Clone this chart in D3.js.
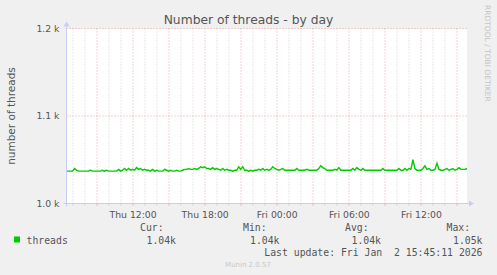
<!DOCTYPE html>
<html>
<head>
<meta charset="utf-8">
<script src="https://cdn.jsdelivr.net/npm/d3@7"></script>
<style>
  html, body { margin: 0; padding: 0; background: #f0f0f0; }
  svg { display: block; overflow: visible; }
</style>
</head>
<body>
<svg id="chart"></svg>
<script>
// threads sampled every 10 minutes, starting Thu 06:30
const startTime = new Date(2026, 0, 1, 6, 30);
const endTime = new Date(2026, 0, 2, 15, 50);
const stepMinutes = 10;
const threads = [
  1037, 1037, 1037, 1037, 1040, 1038,
  1037, 1037, 1037, 1037, 1037, 1037,
  1038, 1037, 1037, 1037, 1037, 1037,
  1038, 1037, 1038, 1037, 1037, 1037,
  1037, 1037, 1039, 1037, 1038, 1040,
  1038, 1040, 1038, 1039, 1038, 1041,
  1039, 1040, 1038, 1039, 1038, 1038,
  1037, 1039, 1037, 1038, 1037, 1037,
  1037, 1039, 1038, 1037, 1038, 1037,
  1037, 1038, 1037, 1037, 1038, 1039,
  1039, 1040, 1039, 1039, 1040, 1039,
  1040, 1042, 1041, 1042, 1040, 1040,
  1039, 1041, 1039, 1040, 1039, 1038,
  1040, 1038, 1039, 1038, 1038, 1037,
  1038, 1038, 1042, 1039, 1042, 1038,
  1038, 1037, 1038, 1037, 1038, 1038,
  1039, 1038, 1040, 1038, 1039, 1038,
  1039, 1042, 1040, 1039, 1038, 1039,
  1040, 1038, 1038, 1038, 1038, 1038,
  1038, 1040, 1038, 1038, 1038, 1038,
  1039, 1038, 1038, 1038, 1038, 1038,
  1040, 1043, 1041, 1040, 1038, 1038,
  1038, 1038, 1039, 1038, 1041, 1038,
  1038, 1038, 1038, 1038, 1038, 1040,
  1038, 1041, 1039, 1038, 1040, 1038,
  1038, 1038, 1038, 1038, 1038, 1038,
  1038, 1038, 1040, 1038, 1038, 1038,
  1038, 1038, 1038, 1038, 1040, 1038,
  1038, 1040, 1038, 1040, 1039, 1050,
  1040, 1038, 1038, 1038, 1040, 1043,
  1039, 1040, 1038, 1038, 1039, 1046,
  1039, 1038, 1038, 1039, 1040, 1038,
  1039, 1040, 1038, 1039, 1041, 1039,
  1039, 1039, 1040
];
const yTicks = [1000, 1100, 1200];
const legendHeaders = ['Cur:', 'Min:', 'Avg:', 'Max:'];
const legendValues = ['1.04k', '1.04k', '1.04k', '1.05k'];
const lastUpdate = 'Last update: Fri Jan\u00a0\u00a02 15:45:11 2026';

const width = 497, height = 275;
const margin = { top: 28.5, right: 30, bottom: 71.5, left: 66.5 };
const innerWidth = width - margin.left - margin.right;
const innerHeight = height - margin.top - margin.bottom;

const sans = 'DejaVu Sans, sans-serif';
const mono = 'DejaVu Sans Mono, monospace';
const textColor = '#555';

const data = threads.map((v, i) => ({
  t: new Date(startTime.getTime() + i * stepMinutes * 60000),
  v
}));

const svg = d3.select('#chart')
  .attr('width', width)
  .attr('height', height)
  .attr('font-family', sans);

svg.append('rect').attr('width', width).attr('height', height).attr('fill', '#f0f0f0');

const x = d3.scaleTime().domain([startTime, endTime]).range([0, innerWidth]);
const y = d3.scaleLinear().domain([1000, 1200]).range([innerHeight, 0]);

const g = svg.append('g').attr('transform', `translate(${margin.left},${margin.top})`);

g.append('rect')
  .attr('width', innerWidth)
  .attr('height', innerHeight)
  .attr('fill', '#fff');

// vertical grid: grey each hour, red every 3 hours
const hours = d3.timeHour.every(1).range(startTime, endTime);
const isMajor = d => d.getHours() % 3 === 0;
g.selectAll('.vgrid')
  .data(hours)
  .enter().append('line')
  .attr('x1', d => Math.round(x(d)) + 0.5)
  .attr('x2', d => Math.round(x(d)) + 0.5)
  .attr('y1', 0)
  .attr('y2', innerHeight)
  .attr('stroke', d => isMajor(d) ? '#eba5a5' : '#cfcfcf')
  .attr('stroke-dasharray', '1,2');

// horizontal grid
g.selectAll('.hgrid')
  .data(yTicks.filter(d => d > 1000))
  .enter().append('line')
  .attr('x1', 0)
  .attr('x2', innerWidth)
  .attr('y1', d => y(d))
  .attr('y2', d => y(d))
  .attr('stroke', '#eba5a5')
  .attr('stroke-dasharray', '1,2');

// data line
g.append('path')
  .datum(data)
  .attr('fill', 'none')
  .attr('stroke', '#00cc00')
  .attr('stroke-width', 1.4)
  .attr('d', d3.line().x(d => x(d.t)).y(d => y(d.v)));

// x axis labels
const xAxis = d3.axisBottom(x)
  .tickValues(d3.timeHour.every(6).range(startTime, endTime))
  .tickSize(0)
  .tickPadding(8)
  .tickFormat(d3.timeFormat('%a %H:%M'));
const xg = g.append('g')
  .attr('transform', `translate(0,${innerHeight})`)
  .call(xAxis)
  .attr('font-family', sans)
  .attr('font-size', 9.3);
xg.select('.domain').remove();
xg.selectAll('text').attr('fill', textColor);

// small ticks under the axis
g.selectAll('.xtick')
  .data(hours)
  .enter().append('line')
  .attr('x1', d => Math.round(x(d)) + 0.5)
  .attr('x2', d => Math.round(x(d)) + 0.5)
  .attr('y1', innerHeight)
  .attr('y2', innerHeight + 2)
  .attr('stroke', d => isMajor(d) ? '#eba5a5' : '#cfcfcf');

// axis lines with arrows
const axisColor = '#c8cdf5';
g.append('line').attr('x1', -3).attr('x2', innerWidth + 2)
  .attr('y1', innerHeight).attr('y2', innerHeight)
  .attr('stroke', axisColor);
g.append('path')
  .attr('d', `M${innerWidth + 2},${innerHeight - 3}L${innerWidth + 7},${innerHeight}L${innerWidth + 2},${innerHeight + 3}Z`)
  .attr('fill', axisColor);
g.append('line').attr('x1', 0).attr('x2', 0)
  .attr('y1', innerHeight + 3).attr('y2', -2)
  .attr('stroke', axisColor);
g.append('path')
  .attr('d', 'M-3,-2L0,-7L3,-2Z')
  .attr('fill', axisColor);

// y axis labels
const yAxis = d3.axisLeft(y)
  .tickValues(yTicks)
  .tickSize(0)
  .tickPadding(7)
  .tickFormat(d => (d / 1000).toFixed(1) + ' k');
const yg = g.append('g')
  .call(yAxis)
  .attr('font-family', sans)
  .attr('font-size', 9.3);
yg.select('.domain').remove();
yg.selectAll('text').attr('fill', textColor);

// title
svg.append('text')
  .attr('x', 248.5).attr('y', 24)
  .attr('text-anchor', 'middle')
  .attr('fill', textColor)
  .attr('font-size', 12.3)
  .text('Number of threads - by day');

// y label
svg.append('text')
  .attr('transform', `translate(14.5,${margin.top + innerHeight / 2}) rotate(-90)`)
  .attr('text-anchor', 'middle')
  .attr('fill', textColor)
  .attr('font-size', 10.5)
  .text('number of threads');

// watermark
svg.append('text')
  .attr('transform', 'translate(484.5,5) rotate(90)')
  .attr('fill', '#c4c4c4')
  .attr('font-size', 7.5)
  .text('RRDTOOL / TOBI OETIKER');

// legend
svg.append('rect')
  .attr('x', 14).attr('y', 236.5).attr('width', 6).attr('height', 6)
  .attr('fill', '#00cc00');

const legend = svg.append('g')
  .attr('font-family', mono)
  .attr('font-size', 9.8)
  .attr('fill', textColor);

legend.append('text')
  .attr('x', 26.5).attr('y', 244)
  .text('threads');

const headerX = [140, 243, 345, 446.5];
const valueEnd = [176, 279.5, 381, 482.5];
legend.selectAll('.lh')
  .data(legendHeaders)
  .enter().append('text')
  .attr('x', (d, i) => headerX[i]).attr('y', 231)
  .text(d => d);
legend.selectAll('.lv')
  .data(legendValues)
  .enter().append('text')
  .attr('x', (d, i) => valueEnd[i]).attr('y', 244)
  .attr('text-anchor', 'end')
  .text(d => d);
legend.append('text')
  .attr('x', 482.5).attr('y', 255.5)
  .attr('text-anchor', 'end')
  .text(lastUpdate);

svg.append('text')
  .attr('x', 248).attr('y', 267)
  .attr('text-anchor', 'middle')
  .attr('fill', '#c8c8c8')
  .attr('font-size', 7)
  .text('Munin 2.0.57');
</script>
</body>
</html>
